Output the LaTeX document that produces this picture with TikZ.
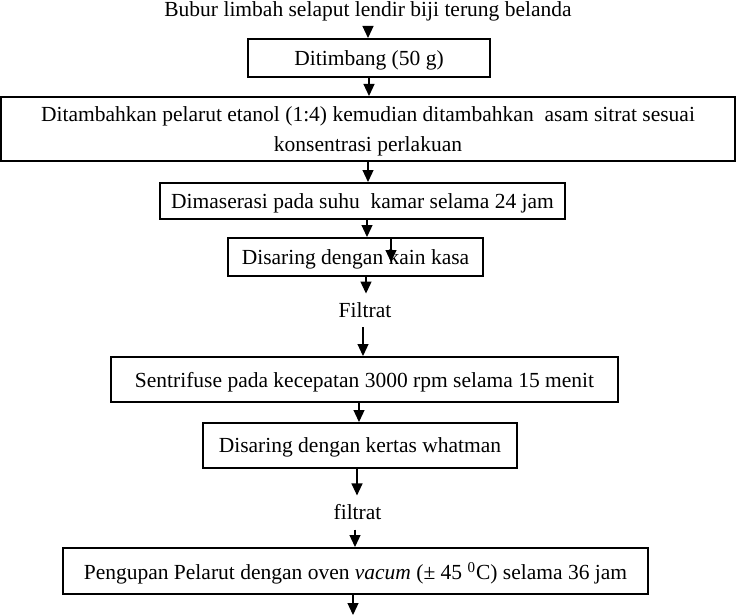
\documentclass[tikz,border=0pt]{standalone}
\usepackage{fontspec}
\setmainfont{Liberation Serif}
\usetikzlibrary{arrows.meta, positioning}

\tikzset{
  box/.style={draw, line width=1pt, inner sep=0pt, align=center, text depth=0pt},
  hasil/.style={inner sep=4.5pt},
  arr/.style={-{Triangle[length=6pt, width=5.5pt]}, line width=0.6pt},
}

\begin{document}
\begin{tikzpicture}[x=0.5pt, y=-0.5pt, font=\fontsize{10.75}{15}\selectfont]
    \useasboundingbox (0,0) rectangle (737,615);

    \node (bubur) at (368,11) {Bubur limbah selaput lendir biji terung belanda};
    \node[box, minimum width=121pt, minimum height=19pt] (timbang) at (369,58)
      {Ditimbang (50 g)};
    \node[box, minimum width=367pt, minimum height=32pt] (pelarut) at (368,129)
      {Ditambahkan pelarut etanol (1:4) kemudian ditambahkan\ \ asam sitrat sesuai\\
       konsentrasi perlakuan};
    \node[box, minimum width=202.5pt, minimum height=18pt] (maserasi) at (362.5,201)
      {Dimaserasi pada suhu\ \ kamar selama 24 jam};
    \node[box, minimum width=127.5pt, minimum height=19pt] (kasa) at (355.5,257)
      {Disaring dengan kain kasa};
    \node[hasil] (filtrat1) at (365,310.5) {Filtrat};
    \node[box, minimum width=253.5pt, minimum height=22.5pt] (sentri) at (364.5,379.5)
      {Sentrifuse pada kecepatan 3000 rpm selama 15 menit};
    \node[box, minimum width=157pt, minimum height=22.5pt] (whatman) at (360,445.5)
      {Disaring dengan kertas whatman};
    \node[hasil] (filtrat2) at (357.5,512.5) {filtrat};
    \node[box, minimum width=292.5pt, minimum height=23pt] (uap) at (355.5,571)
      {Pengupan Pelarut dengan oven \textit{vacum} (± 45 \textsuperscript{0}C) selama 36 jam};

    \coordinate (kasatip) at (391,262);
    \coordinate (akhir) at (353,615);

    % panah alur
    \draw[arr] (bubur.south) -- (bubur.south |- timbang.north);
    \draw[arr] (timbang.south) -- (timbang.south |- pelarut.north);
    \draw[arr] (pelarut.south) -- (pelarut.south |- maserasi.north);
    \draw[arr] ([xshift=2.25pt]maserasi.south) -- ([xshift=2.25pt]maserasi.south |- kasa.north);
    \draw[arr] (kasa.north -| kasatip) -- (kasatip);
    \draw[arr] ([xshift=5.25pt]kasa.south) -- ([xshift=5.25pt]kasa.south |- filtrat1.north);
    \draw[arr] ([xshift=-1pt]filtrat1.south) -- ([xshift=-1pt]filtrat1.south |- sentri.north);
    \draw[arr] ([xshift=-2.75pt]sentri.south) -- ([xshift=-2.75pt]sentri.south |- whatman.north);
    \draw[arr] ([xshift=-1.5pt]whatman.south) -- ([xshift=-1.5pt]whatman.south |- filtrat2.north);
    \draw[arr] ([xshift=-1.25pt]filtrat2.south) -- ([xshift=-1.25pt]filtrat2.south |- uap.north);
    \draw[arr] (uap.south -| akhir) -- (akhir);
  \end{tikzpicture}
\end{document}
